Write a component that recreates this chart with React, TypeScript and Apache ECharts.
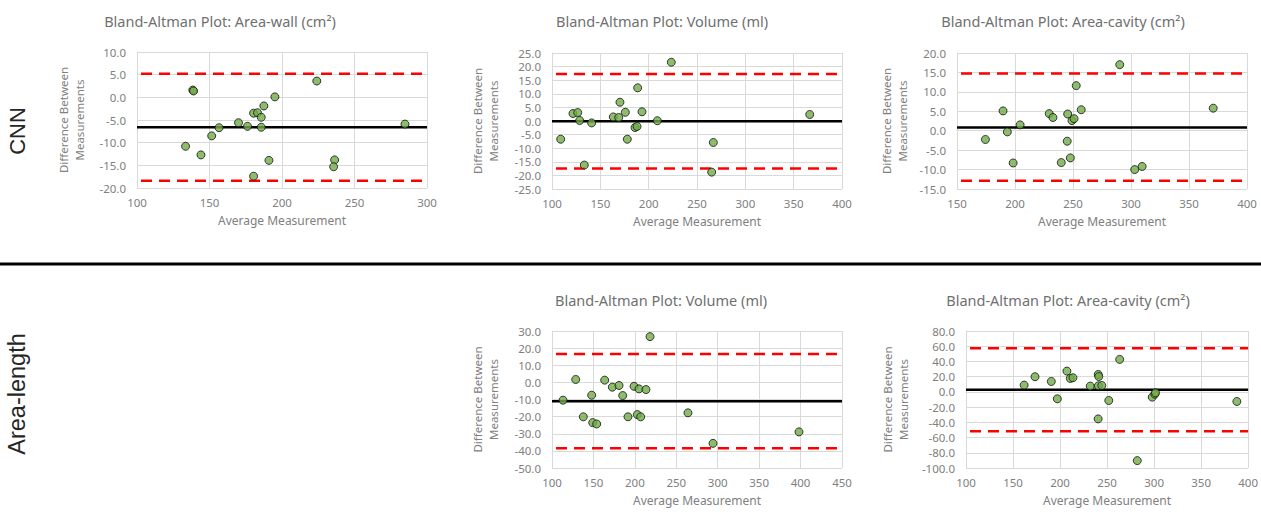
import React, { useEffect, useRef } from "react";
import * as echarts from "echarts";

// ---- Data ----
const titles = [
  "Bland-Altman Plot: Area-wall (cm²)",
  "Bland-Altman Plot: Volume (ml)",
  "Bland-Altman Plot: Area-cavity (cm²)",
  "Bland-Altman Plot: Volume (ml)",
  "Bland-Altman Plot: Area-cavity (cm²)",
];
const rowLabels = ["CNN", "Area-length"];

// CNN Area-wall
const wallX = [138.5, 139, 224, 284.8, 195.1, 187.5, 180.4, 183.1, 185.7, 170, 176.2, 185.7, 156.6, 151.5, 133.5, 144.1, 191, 236.3, 235.6, 180.4];
const wallY = [1.6, 1.4, 3.6, -5.9, 0.1, -1.9, -3.5, -3.4, -4.4, -5.6, -6.4, -6.6, -6.7, -8.5, -10.8, -12.7, -13.9, -13.8, -15.3, -17.4];
const wallStats = [-6.6, 5.2, -18.4]; // mean, upper, lower

// CNN Volume
const volX = [109, 121.7, 126.6, 128.6, 141, 133.4, 163.4, 169, 170.3, 175.9, 177.9, 185.9, 188, 188.6, 193.1, 209, 223.4, 265.2, 266.9, 366.6];
const volY = [-6.7, 2.75, 3.1, 0.2, -0.7, -16.2, 1.5, 1.3, 6.9, 3.2, -6.7, -2.4, -2.0, 12.2, 3.4, 0.1, 21.6, -18.8, -7.9, 2.4];
const volStats = [-0.1, 17.3, -17.5];

// CNN Area-cavity
const cavX = [174.5, 189.7, 193.4, 198.4, 204.4, 229.5, 232.7, 239.9, 245, 245.4, 247.7, 249.1, 250.9, 252.8, 257.1, 290.3, 303.2, 309.6, 370.9];
const cavY = [-2.25, 5.1, -0.3, -8.3, 1.5, 4.4, 3.4, -8.2, -2.7, 4.3, -7.0, 2.6, 3.1, 11.6, 5.4, 17.0, -10.0, -9.2, 5.8];
const cavStats = [0.8, 14.7, -12.9];

// Area-length Volume
const alVolX = [113.3, 128.6, 137.8, 147.9, 149.1, 153.9, 163.6, 172.8, 180.9, 185.3, 191.7, 199, 203, 205, 207, 213.4, 218.3, 264.1, 294.3, 398.1];
const alVolY = [-10.4, 1.7, -20.1, -7.5, -23.5, -24.3, 1.3, -2.8, -1.8, -7.7, -20.1, -2.3, -18.8, -3.8, -20.1, -4.2, 26.7, -17.8, -35.6, -28.9];
const alVolStats = [-11.0, 16.5, -38.5];

// Area-length Area-cavity
const alCavX = [161.8, 173.4, 190.7, 197.1, 207.3, 210.9, 213.7, 232.1, 240.6, 241.2, 240.8, 244.4, 240.5, 251.8, 263.4, 282.1, 298, 300.8, 301.5, 388];
const alCavY = [8.9, 19.9, 13.7, -9.1, 27.3, 17.7, 18.6, 7.6, 22.9, 20.2, 8.0, 8.4, -35.5, -11.3, 42.7, -90.3, -6.9, -3.0, -1.2, -12.6];
const alCavStats = [2.7, 57.2, -51.7];

// axis ranges: [xmin, xmax, xstep, ymin, ymax, ystep]
const axisRanges = [
  [100, 300, 50, -20, 10, 5],
  [100, 400, 50, -25, 25, 5],
  [150, 400, 50, -15, 20, 5],
  [100, 450, 50, -50, 30, 10],
  [100, 400, 50, -100, 80, 20],
];

const xNames = "Average Measurement";
const yNames = "Difference Between\nMeasurements";

const plots = [
  { xs: wallX, ys: wallY, stats: wallStats },
  { xs: volX, ys: volY, stats: volStats },
  { xs: cavX, ys: cavY, stats: cavStats },
  { xs: alVolX, ys: alVolY, stats: alVolStats },
  { xs: alCavX, ys: alCavY, stats: alCavStats },
];

// layout
const grids = [
  { left: 137, top: 52, width: 290, height: 136 },
  { left: 552, top: 53, width: 290, height: 136 },
  { left: 957, top: 53, width: 290, height: 136 },
  { left: 552, top: 331, width: 290, height: 137 },
  { left: 966, top: 331, width: 283, height: 137 },
];
const titlePos = [
  [220, 21],
  [662, 21],
  [1063, 21],
  [661, 300],
  [1068, 300],
];
const yNameGaps = [50, 51, 47, 51, 55];

const FONT = "'Noto Sans', 'Open Sans', sans-serif";
const LABEL = "#808080";

export default function App() {
  const ref = useRef<HTMLDivElement>(null);
  useEffect(() => {
    document.body.style.margin = "0";
    if (!ref.current) return;
    const chart = echarts.init(ref.current, undefined, { renderer: "svg" });
    const xAxis: any[] = [];
    const yAxis: any[] = [];
    const series: any[] = [];
    plots.forEach((p, i) => {
      const [xmin, xmax, xstep, ymin, ymax, ystep] = axisRanges[i];
      xAxis.push({
        type: "value",
        gridIndex: i,
        min: xmin,
        max: xmax,
        interval: xstep,
        name: xNames,
        nameLocation: "middle",
        nameGap: 26,
        nameTextStyle: { color: LABEL, fontSize: 12, fontFamily: FONT },
        axisLine: { show: true, lineStyle: { color: "#d9d9d9" } },
        axisTick: { show: false },
        axisLabel: { color: LABEL, fontSize: 11.5, fontFamily: FONT, margin: 8 },
        splitLine: { show: true, lineStyle: { color: "#d9d9d9" } },
      });
      yAxis.push({
        type: "value",
        gridIndex: i,
        min: ymin,
        max: ymax,
        interval: ystep,
        name: yNames,
        nameLocation: "middle",
        nameGap: yNameGaps[i],
        nameTextStyle: { color: LABEL, fontSize: 11.5, fontFamily: FONT, lineHeight: 16 },
        axisLine: { show: true, lineStyle: { color: "#d9d9d9" } },
        axisTick: { show: false },
        axisLabel: {
          color: LABEL,
          fontSize: 11.5,
          fontFamily: FONT,
          margin: 11,
          formatter: (v: number) => v.toFixed(1),
        },
        splitLine: { show: true, lineStyle: { color: "#d9d9d9" } },
      });
      const [mean, up, lo] = p.stats;
      series.push({
        type: "line",
        xAxisIndex: i,
        yAxisIndex: i,
        data: [[xmin, up], [xmax, up]],
        symbol: "none",
        lineStyle: { color: "#ff0000", width: 2.5, type: [11, 7], dashOffset: 14 },
        z: 2,
      });
      series.push({
        type: "line",
        xAxisIndex: i,
        yAxisIndex: i,
        data: [[xmin, lo], [xmax, lo]],
        symbol: "none",
        lineStyle: { color: "#ff0000", width: 2.5, type: [11, 7], dashOffset: 14 },
        z: 2,
      });
      series.push({
        type: "line",
        xAxisIndex: i,
        yAxisIndex: i,
        data: [[xmin, mean], [xmax, mean]],
        symbol: "none",
        lineStyle: { color: "#000000", width: 2.5 },
        z: 2,
      });
      series.push({
        type: "scatter",
        xAxisIndex: i,
        yAxisIndex: i,
        data: p.xs.map((x, k) => [x, p.ys[k]]),
        symbolSize: 8,
        itemStyle: { color: "#70ad47", borderColor: "#111111", borderWidth: 1 },
        z: 3,
      });
    });

    const graphic: any[] = [];
    titles.forEach((t, i) => {
      graphic.push({
        type: "text",
        x: titlePos[i][0],
        y: titlePos[i][1],
        style: {
          text: t,
          fill: "#707070",
          fontSize: 14.5,
          fontFamily: FONT,
          align: "center",
          verticalAlign: "middle",
        },
      });
    });
    graphic.push({
      type: "text",
      x: 17,
      y: 131,
      rotation: Math.PI / 2,
      style: {
        text: rowLabels[0],
        fill: "#262626",
        fontSize: 22,
        fontFamily: "'Liberation Sans', Arial, sans-serif",
        align: "center",
        verticalAlign: "middle",
      },
    });
    graphic.push({
      type: "text",
      x: 17,
      y: 394,
      rotation: Math.PI / 2,
      style: {
        text: rowLabels[1],
        fill: "#262626",
        fontSize: 23.5,
        fontFamily: "'Liberation Sans', Arial, sans-serif",
        align: "center",
        verticalAlign: "middle",
      },
    });
    graphic.push({
      type: "line",
      shape: { x1: 0, y1: 264, x2: 1261, y2: 264 },
      style: { stroke: "#000000", lineWidth: 3 },
    });

    chart.setOption({
      animation: false,
      backgroundColor: "#ffffff",
      grid: grids,
      xAxis,
      yAxis,
      series,
      graphic,
    });
    return () => chart.dispose();
  }, []);
  return <div ref={ref} style={{ width: 1261, height: 521 }} />;
}
